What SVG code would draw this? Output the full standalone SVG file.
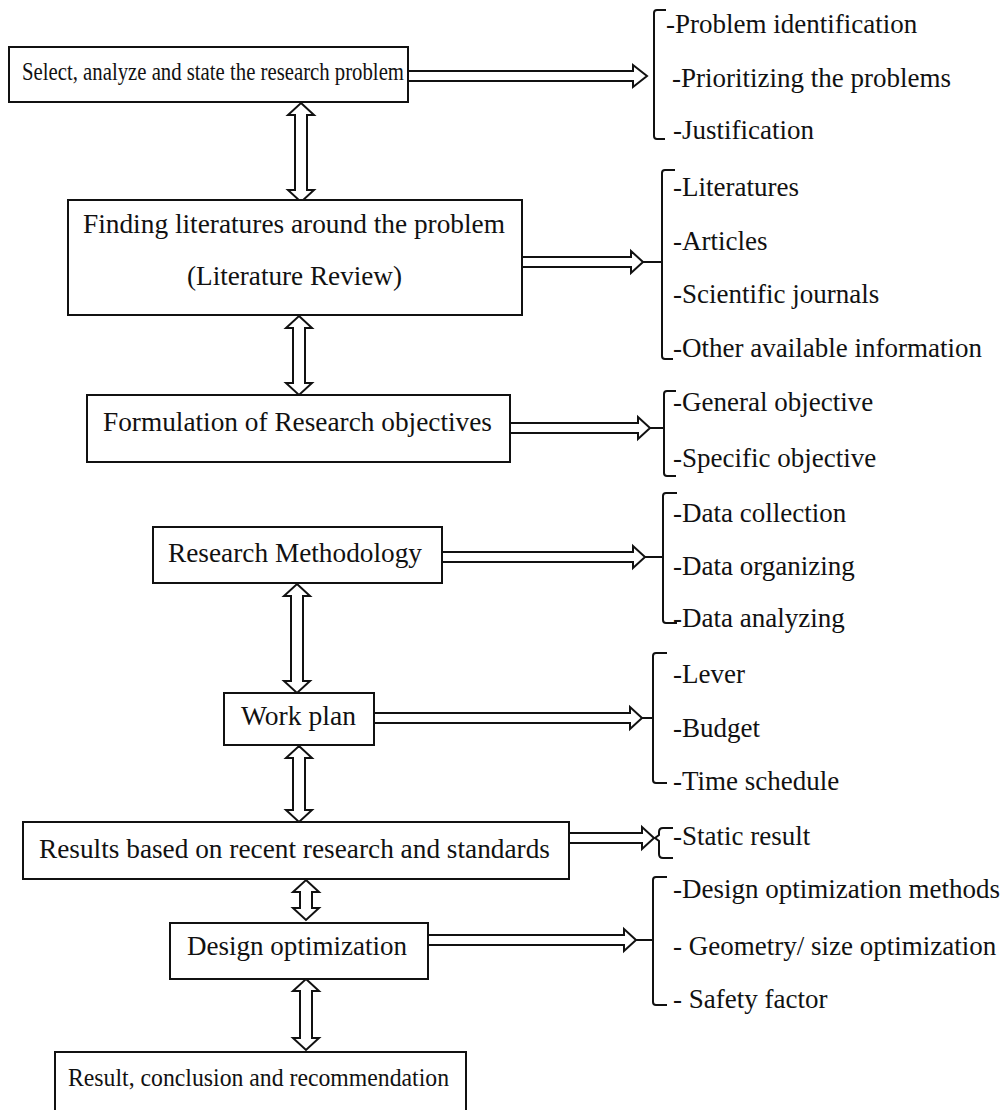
<svg xmlns="http://www.w3.org/2000/svg" width="1005" height="1110" viewBox="0 0 1005 1110">
<style>
.box{fill:#fff;stroke:#111;stroke-width:2}
.t{font-family:"Liberation Serif","Times New Roman",serif;font-size:27px;fill:#111}
.s{font-size:25px}
.c{text-anchor:middle}
.arr{fill:#fff;stroke:#111;stroke-width:2;stroke-linejoin:miter}
.br{fill:none;stroke:#111;stroke-width:2}
</style>
<rect width="1005" height="1110" fill="#fff"/>
<g id="connectors">
  <polygon class="arr" points="301,103 314,115 307,115 307,190 314,190 301,202 288,190 295,190 295,115 288,115"/>
  <polygon class="arr" points="299,316 312,328 305,328 305,383 312,383 299,395 286,383 293,383 293,328 286,328"/>
  <polygon class="arr" points="297,584 310,596 303,596 303,681 310,681 297,693 284,681 291,681 291,596 284,596"/>
  <polygon class="arr" points="299,746 312,758 305,758 305,810 312,810 299,822 286,810 293,810 293,758 286,758"/>
  <polygon class="arr" points="306,880 319,892 312,892 312,908 319,908 306,920 293,908 300,908 300,892 293,892"/>
  <polygon class="arr" points="306,979 319,991 312,991 312,1038 319,1038 306,1050 293,1038 300,1038 300,991 293,991"/>
  <polygon class="arr" points="408,71 633,71 633,65 647,76 633,87 633,81 408,81"/>
  <polygon class="arr" points="522,257 631,257 631,251 643,262 631,273 631,267 522,267"/>
  <polygon class="arr" points="510,423 638,423 638,417 650,428 638,439 638,433 510,433"/>
  <polygon class="arr" points="442,552 633,552 633,546 645,557 633,568 633,562 442,562"/>
  <polygon class="arr" points="374,713 630,713 630,707 642,718 630,729 630,723 374,723"/>
  <polygon class="arr" points="569,833 642,833 642,827 654,838 642,849 642,843 569,843"/>
  <polygon class="arr" points="428,935 624,935 624,929 636,940 624,951 624,945 428,945"/>
  <path class="br" d="M666,10 H657 Q654,10 654,13 V136 Q654,139 657,139 H665"/>
  <path class="br" d="M675,170 H665 Q662,170 662,173 V356 Q662,359 665,359 H673 M643,262 H662"/>
  <path class="br" d="M676,391 H667 Q664,391 664,394 V473 Q664,476 667,476 H676 M650,428 H664"/>
  <path class="br" d="M677,493 H666 Q663,493 663,496 V620 Q663,623 666,623 H677 M645,557 H663"/>
  <path class="br" d="M667,653 H656 Q653,653 653,656 V780 Q653,783 656,783 H667 M642,718 H653"/>
  <path class="br" d="M673,828 H663 Q659,828 659,832 V835 L655,838 L659,841 V854 Q659,858 663,858 H673"/>
  <path class="br" d="M667,877 H656 Q653,877 653,880 V1002 Q653,1005 656,1005 H667 M636,940 H653"/>
</g>
<g id="n1">
  <rect class="box" x="9" y="47" width="399" height="55"/>
  <text class="t s c" x="213" y="80" textLength="382" lengthAdjust="spacingAndGlyphs">Select, analyze and state the research problem</text>
</g>
<g id="n1-items">
  <text class="t" x="666" y="33">-Problem identification</text>
  <text class="t" x="672" y="87">-Prioritizing the problems</text>
  <text class="t" x="673" y="139">-Justification</text>
</g>
<g id="n2">
  <rect class="box" x="68" y="200" width="454" height="115"/>
  <text class="t c" x="294" y="233" textLength="422" lengthAdjust="spacingAndGlyphs">Finding literatures around the problem</text>
  <text class="t c" x="294.5" y="285" textLength="215" lengthAdjust="spacingAndGlyphs">(Literature Review)</text>
</g>
<g id="n2-items">
  <text class="t" x="673" y="196">-Literatures</text>
  <text class="t" x="673" y="250">-Articles</text>
  <text class="t" x="673" y="303">-Scientific journals</text>
  <text class="t" x="673" y="357">-Other available information</text>
</g>
<g id="n3">
  <rect class="box" x="87" y="395" width="423" height="67"/>
  <text class="t c" x="297.5" y="431" textLength="389" lengthAdjust="spacingAndGlyphs">Formulation of Research objectives</text>
</g>
<g id="n3-items">
  <text class="t" x="673" y="411">-General objective</text>
  <text class="t" x="673" y="467">-Specific objective</text>
</g>
<g id="n4">
  <rect class="box" x="153" y="527" width="289" height="56"/>
  <text class="t c" x="295" y="562" textLength="254" lengthAdjust="spacingAndGlyphs">Research Methodology</text>
</g>
<g id="n4-items">
  <text class="t" x="673" y="522">-Data collection</text>
  <text class="t" x="673" y="575">-Data organizing</text>
  <text class="t" x="673" y="627">-Data analyzing</text>
</g>
<g id="n5">
  <rect class="box" x="224" y="693" width="150" height="52"/>
  <text class="t c" x="298.5" y="725" textLength="115" lengthAdjust="spacingAndGlyphs">Work plan</text>
</g>
<g id="n5-items">
  <text class="t" x="673" y="683">-Lever</text>
  <text class="t" x="673" y="737">-Budget</text>
  <text class="t" x="673" y="790">-Time schedule</text>
</g>
<g id="n6">
  <rect class="box" x="23" y="822" width="546" height="57"/>
  <text class="t c" x="294.5" y="858" textLength="511" lengthAdjust="spacingAndGlyphs">Results based on recent research and standards</text>
</g>
<g id="n6-items">
  <text class="t" x="673" y="845">-Static result</text>
</g>
<g id="n7">
  <rect class="box" x="170" y="923" width="258" height="56"/>
  <text class="t c" x="297" y="955" textLength="220" lengthAdjust="spacingAndGlyphs">Design optimization</text>
</g>
<g id="n7-items">
  <text class="t" x="673" y="898">-Design optimization methods</text>
  <text class="t" x="673" y="955">- Geometry/ size optimization</text>
  <text class="t" x="673" y="1008">- Safety factor</text>
</g>
<g id="n8">
  <rect class="box" x="55" y="1052" width="411" height="80"/>
  <text class="t s c" x="258.5" y="1086" textLength="381" lengthAdjust="spacingAndGlyphs">Result, conclusion and recommendation</text>
</g>
</svg>
